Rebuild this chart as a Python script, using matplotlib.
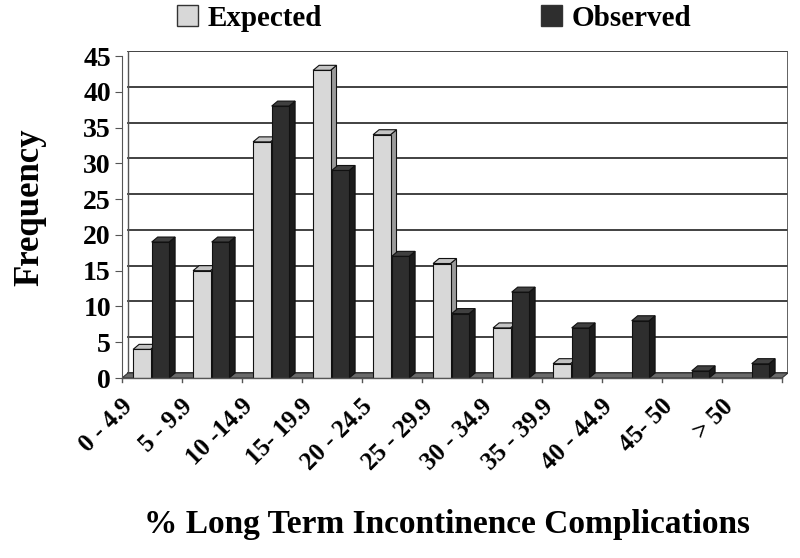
import matplotlib
matplotlib.use("Agg")
import matplotlib.pyplot as plt
from matplotlib.patches import Polygon, Patch
import matplotlib.transforms as mtransforms
import numpy as np

categories = ["0 - 4.9", "5 - 9.9", "10 -14.9", "15- 19.9", "20 - 24.5", "25 - 29.9",
              "30 - 34.9", "35 - 39.9", "40 - 44.9", "45- 50", "> 50"]
expected = [4, 15, 33, 43, 34, 16, 7, 2, 0, 0, 0]
observed = [19, 19, 38, 29, 17, 9, 12, 7, 8, 1, 2]
yticks = [0, 5, 10, 15, 20, 25, 30, 35, 40, 45]

plt.rcParams['font.family'] = ['Liberation Serif', 'DejaVu Serif']
plt.rcParams['font.weight'] = 'bold'

fig = plt.figure(figsize=(8, 5.58), dpi=100)
ax = fig.add_axes([122/800, 1-378/558, 666/800, 327/558])
ax.set_xlim(-0.5, 10.6)
ax.set_ylim(0, 45.7)

dx, dy = 0.1, 0.7
x = np.arange(len(categories))
w = 0.29

# floor
ax.add_patch(Polygon([(-0.5, 0), (10.5, 0), (10.5+dx, dy), (-0.5+dx, dy)],
                     closed=True, facecolor='#6a6a6a', edgecolor='#333333', lw=0.8, zorder=1))
# back wall gridlines
for v in yticks:
    ax.plot([-0.5+dx, 10.5+dx], [v+dy, v+dy], color='#333333', lw=1.3, zorder=0.5)
ax.plot([-0.5+dx, -0.5+dx], [dy, 45+dy], color='#555555', lw=1.0, zorder=0.5)
ax.plot([10.5+dx, 10.5+dx], [dy, 45+dy], color='#555555', lw=1.3, zorder=0.5)

def bar3d(xc, h, front, top, side):
    x0, x1 = xc - w/2, xc + w/2
    ax.add_patch(Polygon([(x1, 0), (x1, h), (x1+dx, h+dy), (x1+dx, dy)], closed=True,
                         facecolor=side, edgecolor='#111111', lw=0.8, zorder=2))
    ax.add_patch(Polygon([(x0, h), (x1, h), (x1+dx, h+dy), (x0+dx, h+dy)], closed=True,
                         facecolor=top, edgecolor='#111111', lw=0.8, zorder=2))
    ax.add_patch(Polygon([(x0, 0), (x1, 0), (x1, h), (x0, h)], closed=True,
                         facecolor=front, edgecolor='#111111', lw=0.8, zorder=3))

for i in range(len(categories)):
    if expected[i] > 0:
        bar3d(x[i] - 0.17, expected[i], '#d8d8d8', '#c4c4c4', '#9a9a9a')
    if observed[i] > 0:
        bar3d(x[i] + 0.14, observed[i], '#2e2e2e', '#404040', '#1c1c1c')

for s in ['top', 'right', 'bottom']:
    ax.spines[s].set_visible(False)
ax.spines['left'].set_bounds(0, 45)
ax.spines['left'].set_color('#555555')
ax.plot([-0.5, 10.5], [0, 0], color='#555555', lw=1.0, zorder=4, clip_on=False)
for b in np.arange(-0.5, 11, 1.0):
    ax.plot([b, b], [0, -0.6], color='#555555', lw=1.0, clip_on=False)

ax.set_yticks(yticks)
ax.set_yticklabels([str(v) for v in yticks], fontsize=20, fontweight='bold')
ax.tick_params(axis='y', length=5, color='#555555', pad=3)

ax.set_xticks(x)
ax.set_xticklabels(categories, rotation=45, ha='right', rotation_mode='anchor',
                   fontsize=18, fontweight='bold')
ax.tick_params(axis='x', length=0, pad=12)
off = mtransforms.ScaledTranslation(-31/100, 0, fig.dpi_scale_trans)
for lab in ax.get_xticklabels():
    lab.set_transform(lab.get_transform() + off)

fig.text(30/800, 1-207/558, "Frequency", fontsize=25, fontweight='bold',
         rotation=90, ha='center', va='center')
fig.text(447/800, 1-525/558, "% Long Term Incontinence Complications", fontsize=24,
         fontweight='bold', ha='center', va='center')

handles = [Patch(facecolor='#d8d8d8', edgecolor='#333333', label='Expected'),
           Patch(facecolor='#2e2e2e', edgecolor='#333333', label='Observed')]
fig.legend(handles=handles, loc='center', bbox_to_anchor=(0.543, 1-18/558), ncol=2,
           frameon=False, columnspacing=7.5, handlelength=0.7, handleheight=0.7,
           handletextpad=0.35, borderpad=0, prop={'size': 21, 'weight': 'bold'})

fig.savefig("out.png", dpi=100)
